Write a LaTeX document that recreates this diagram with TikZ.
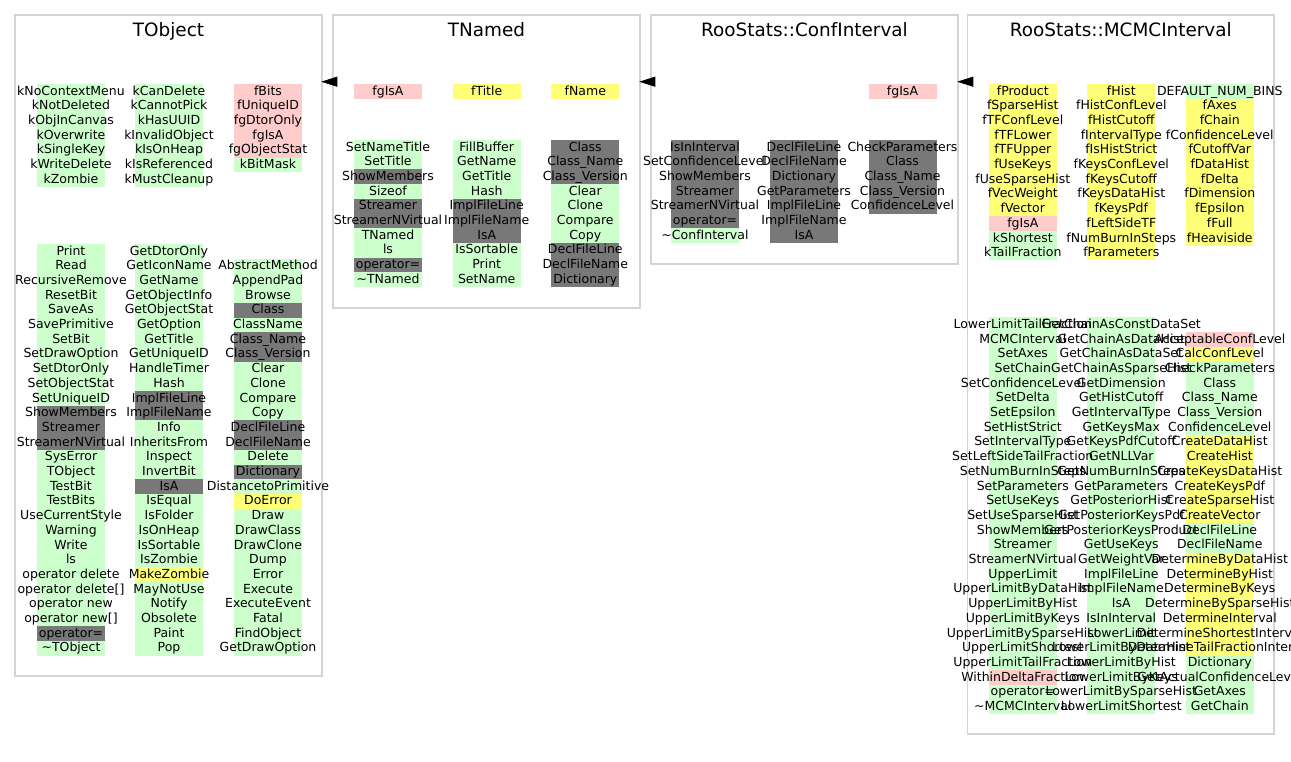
\documentclass[tikz,border=0pt]{standalone}
\usepackage{fontspec}
\setmainfont{DejaVu Sans}
\usetikzlibrary{arrows.meta,fit}
\pgfdeclarelayer{background}
\pgfsetlayers{background,main}
\definecolor{pub}{HTML}{CCFFCC}
\definecolor{pri}{HTML}{FFCCCC}
\definecolor{pro}{HTML}{FFFF77}
\definecolor{non}{HTML}{787878}
\def\memfont{\fontsize{12.5}{14.7}\selectfont}
\def\titlefont{\fontsize{18.4}{22}\selectfont}
\def\memcol#1(#2,#3)#4{%
	\begin{pgfonlayer}{background}
		\foreach \txt/\fc [count=\row] in {#4}{%
			\fill[\fc] ({#2-34},{#3+(\row-1)*14.7}) rectangle ++(68,14.7);
		}%
	\end{pgfonlayer}
	\foreach \txt/\fc [count=\row] in {#4}{%
		\node[member] (#1-\row) at (#2,{#3+(\row-1)*14.7+11}) {\txt};
	}%
}
\tikzset{
	member/.style={inner sep=0pt, anchor=base, font=\memfont},
	classtitle/.style={inner sep=0pt, anchor=base, font=\titlefont},
	classbox/.style={draw=black!17, line width=1.5pt, inner sep=0pt},
	derives/.style={-{Triangle[length=16pt,width=10pt]}, line width=0.6pt}
}

\begin{document}
\begin{tikzpicture}[x=1pt, y=-1pt]
			%%%%% START %%%%%
			\useasboundingbox (0,0) rectangle (1291,761);
			\begin{pgfonlayer}{background}
				\fill[white] (0,0) rectangle (1291,761);
			\end{pgfonlayer}
			
			\node[classbox, fit={(15,15) (322,676)}] (tobject) {};
			\node[classbox, fit={(333,15) (640,308)}] (tnamed) {};
			\node[classbox, fit={(651,15) (958,264)}] (confint) {};
			\node[classbox, fit={(967.5,15) (1274,734)}] (mcmcint) {};
			
			\node[classtitle] (tobject-t) at (168.5,36.5) {TObject};
			\node[classtitle] (tnamed-t) at (486.5,36.5) {TNamed};
			\node[classtitle] (confint-t) at (804.5,36.5) {RooStats::ConfInterval};
			\node[classtitle] (mcmcint-t) at (1120.8,36.5) {RooStats::MCMCInterval};
			
			\coordinate (base) at (0,81.7);
			\draw[derives] (tnamed.west |- base) -- ([xshift=-1.5pt]tobject.east |- base);
			\draw[derives] (confint.west |- base) -- ([xshift=-1.5pt]tnamed.east |- base);
			\draw[derives] (mcmcint.west |- base) -- ([xshift=-1.5pt]confint.east |- base);
			
			% TObject
			\memcol{obj1}(71,84){kNoContextMenu/pub,kNotDeleted/pub,kObjInCanvas/pub,kOverwrite/pub,kSingleKey/pub,kWriteDelete/pub,kZombie/pub}
			\memcol{obj2}(169,84){kCanDelete/pub,kCannotPick/pub,kHasUUID/pub,kInvalidObject/pub,kIsOnHeap/pub,kIsReferenced/pub,kMustCleanup/pub}
			\memcol{obj3}(268,84){fBits/pri,fUniqueID/pri,fgDtorOnly/pri,fgIsA/pri,fgObjectStat/pri,kBitMask/pub}
			\memcol{obj4}(71,244){Print/pub,Read/pub,RecursiveRemove/pub,ResetBit/pub,SaveAs/pub,SavePrimitive/pub,SetBit/pub,SetDrawOption/pub,SetDtorOnly/pub,SetObjectStat/pub,SetUniqueID/pub,ShowMembers/non,Streamer/non,StreamerNVirtual/non,SysError/pub,TObject/pub,TestBit/pub,TestBits/pub,UseCurrentStyle/pub,Warning/pub,Write/pub,ls/pub,operator delete/pub,operator delete[]/pub,operator new/pub,operator new[]/pub,operator=/non,\textasciitilde TObject/pub}
			\memcol{obj5}(169,244){GetDtorOnly/pub,GetIconName/pub,GetName/pub,GetObjectInfo/pub,GetObjectStat/pub,GetOption/pub,GetTitle/pub,GetUniqueID/pub,HandleTimer/pub,Hash/pub,ImplFileLine/non,ImplFileName/non,Info/pub,InheritsFrom/pub,Inspect/pub,InvertBit/pub,IsA/non,IsEqual/pub,IsFolder/pub,IsOnHeap/pub,IsSortable/pub,IsZombie/pub,MakeZombie/pro,MayNotUse/pub,Notify/pub,Obsolete/pub,Paint/pub,Pop/pub}
			\memcol{obj6}(268,258.7){AbstractMethod/pub,AppendPad/pub,Browse/pub,Class/non,ClassName/pub,Class\_Name/non,Class\_Version/non,Clear/pub,Clone/pub,Compare/pub,Copy/pub,DeclFileLine/non,DeclFileName/non,Delete/pub,Dictionary/non,DistancetoPrimitive/pub,DoError/pro,Draw/pub,DrawClass/pub,DrawClone/pub,Dump/pub,Error/pub,Execute/pub,ExecuteEvent/pub,Fatal/pub,FindObject/pub,GetDrawOption/pub}
			
			% TNamed
			\memcol{nam1}(388,84){fgIsA/pri}
			\memcol{nam2}(486.7,84){fTitle/pro}
			\memcol{nam3}(585.3,84){fName/pro}
			\memcol{nam4}(388,140){SetNameTitle/pub,SetTitle/pub,ShowMembers/non,Sizeof/pub,Streamer/non,StreamerNVirtual/non,TNamed/pub,ls/pub,operator=/non,\textasciitilde TNamed/pub}
			\memcol{nam5}(486.7,140){FillBuffer/pub,GetName/pub,GetTitle/pub,Hash/pub,ImplFileLine/non,ImplFileName/non,IsA/non,IsSortable/pub,Print/pub,SetName/pub}
			\memcol{nam6}(585.3,140){Class/non,Class\_Name/non,Class\_Version/non,Clear/pub,Clone/pub,Compare/pub,Copy/pub,DeclFileLine/non,DeclFileName/non,Dictionary/non}
			
			% ConfInterval
			\memcol{conf1}(902.5,84){fgIsA/pri}
			\memcol{conf2}(705,140){IsInInterval/non,SetConfidenceLevel/non,ShowMembers/non,Streamer/non,StreamerNVirtual/non,operator=/non,\textasciitilde ConfInterval/pub}
			\memcol{conf3}(804,140){DeclFileLine/non,DeclFileName/non,Dictionary/non,GetParameters/non,ImplFileLine/non,ImplFileName/non,IsA/non}
			\memcol{conf4}(902.5,140){CheckParameters/non,Class/non,Class\_Name/non,Class\_Version/non,ConfidenceLevel/non}
			
			% MCMCInterval
			\memcol{mcmc1}(1022.8,84){fProduct/pro,fSparseHist/pro,fTFConfLevel/pro,fTFLower/pro,fTFUpper/pro,fUseKeys/pro,fUseSparseHist/pro,fVecWeight/pro,fVector/pro,fgIsA/pri,kShortest/pub,kTailFraction/pub}
			\memcol{mcmc2}(1121.3,84){fHist/pro,fHistConfLevel/pro,fHistCutoff/pro,fIntervalType/pro,fIsHistStrict/pro,fKeysConfLevel/pro,fKeysCutoff/pro,fKeysDataHist/pro,fKeysPdf/pro,fLeftSideTF/pro,fNumBurnInSteps/pro,fParameters/pro}
			\memcol{mcmc3}(1219.8,84){DEFAULT\_NUM\_BINS/pub,fAxes/pro,fChain/pro,fConfidenceLevel/pro,fCutoffVar/pro,fDataHist/pro,fDelta/pro,fDimension/pro,fEpsilon/pro,fFull/pro,fHeaviside/pro}
			\memcol{mcmc4}(1022.8,317.3){LowerLimitTailFraction/pub,MCMCInterval/pub,SetAxes/pub,SetChain/pub,SetConfidenceLevel/pub,SetDelta/pub,SetEpsilon/pub,SetHistStrict/pub,SetIntervalType/pub,SetLeftSideTailFraction/pub,SetNumBurnInSteps/pub,SetParameters/pub,SetUseKeys/pub,SetUseSparseHist/pub,ShowMembers/pub,Streamer/pub,StreamerNVirtual/pub,UpperLimit/pub,UpperLimitByDataHist/pub,UpperLimitByHist/pub,UpperLimitByKeys/pub,UpperLimitBySparseHist/pub,UpperLimitShortest/pub,UpperLimitTailFraction/pub,WithinDeltaFraction/pri,operator=/pub,\textasciitilde MCMCInterval/pub}
			\memcol{mcmc5}(1121.3,317.3){GetChainAsConstDataSet/pub,GetChainAsDataHist/pub,GetChainAsDataSet/pub,GetChainAsSparseHist/pub,GetDimension/pub,GetHistCutoff/pub,GetIntervalType/pub,GetKeysMax/pub,GetKeysPdfCutoff/pub,GetNLLVar/pub,GetNumBurnInSteps/pub,GetParameters/pub,GetPosteriorHist/pub,GetPosteriorKeysPdf/pub,GetPosteriorKeysProduct/pub,GetUseKeys/pub,GetWeightVar/pub,ImplFileLine/pub,ImplFileName/pub,IsA/pub,IsInInterval/pub,LowerLimit/pub,LowerLimitByDataHist/pub,LowerLimitByHist/pub,LowerLimitByKeys/pub,LowerLimitBySparseHist/pub,LowerLimitShortest/pub}
			\memcol{mcmc6}(1219.8,332){AcceptableConfLevel/pri,CalcConfLevel/pro,CheckParameters/pub,Class/pub,Class\_Name/pub,Class\_Version/pub,ConfidenceLevel/pub,CreateDataHist/pro,CreateHist/pro,CreateKeysDataHist/pro,CreateKeysPdf/pro,CreateSparseHist/pro,CreateVector/pro,DeclFileLine/pub,DeclFileName/pub,DetermineByDataHist/pro,DetermineByHist/pro,DetermineByKeys/pro,DetermineBySparseHist/pro,DetermineInterval/pro,DetermineShortestInterval/pro,DetermineTailFractionInterval/pro,Dictionary/pub,GetActualConfidenceLevel/pub,GetAxes/pub,GetChain/pub}
			
			%%%%% END %%%%%
\end{tikzpicture}
\end{document}
